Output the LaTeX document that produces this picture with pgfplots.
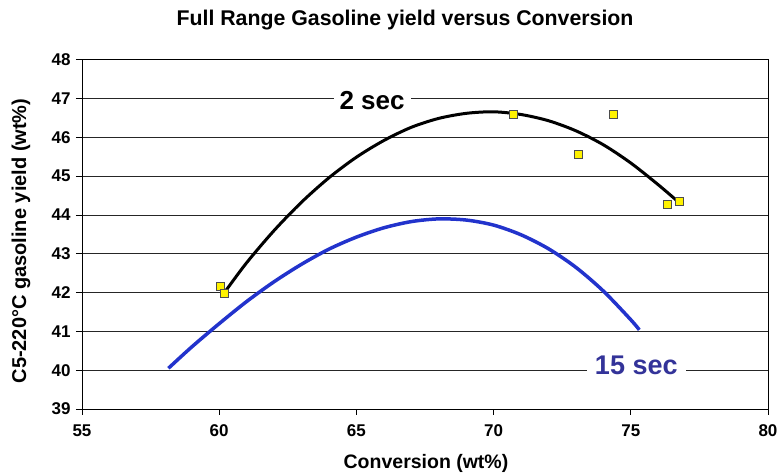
\documentclass[border=0pt]{standalone}
\usepackage{fontspec}
\setmainfont{Liberation Sans}
\usepackage{pgfplots}
\pgfplotsset{compat=1.18}
\definecolor{curveblue}{RGB}{34,51,204}
\definecolor{labelblue}{RGB}{51,51,153}
\begin{document}
\begin{tikzpicture}[x=1pt,y=1pt]
\useasboundingbox (0,0) rectangle (780,474);
\node[font=\bfseries\fontsize{21.3}{21.3}\selectfont] at (405,454) {Full Range Gasoline yield versus Conversion};
\node[font=\bfseries\fontsize{19.5}{19.5}\selectfont] at (426,11) {Conversion (wt\%)};
\node[font=\bfseries\fontsize{20}{20}\selectfont, rotate=90] at (21,233) {C5-220°C gasoline yield (wt\%)};
\begin{axis}[
  at={(82pt,65pt)}, anchor=south west,
  width=686pt, height=349.2pt, scale only axis,
  xmin=55, xmax=80, ymin=39, ymax=48,
  xtick={55,60,...,80}, ytick={39,40,...,48},
  ymajorgrids, grid style={black!85, line width=0.8pt},
  axis line style={black, line width=0.9pt},
  tick style={black, line width=0.9pt},
  tick align=outside, major tick length=6pt,
  xtick pos=bottom, ytick pos=left,
  /pgf/number format/assume math mode=true,
  tick label style={font=\bfseries\fontsize{17}{17}\selectfont},
  xticklabel style={yshift=-6pt},
  yticklabel style={xshift=-2pt},
  clip=false,
]
% 15 sec curve
\addplot[curveblue, line width=3.5pt, smooth, no marks] coordinates {
(58.15,40.05) (59,40.60) (60,41.20) (61,41.77) (62,42.28) (63,42.73)
(64,43.12) (65,43.43) (66,43.67) (67,43.83) (68,43.90) (69,43.87)
(70,43.74) (71,43.49) (72,43.13) (73,42.65) (74,42.04) (75,41.30) (75.31,41.04)};
% 2 sec curve
\addplot[black, line width=3pt, smooth, no marks] coordinates {
(60.19,42.0) (61,42.77) (62,43.60) (63,44.33) (64,44.96) (65,45.49)
(66,45.92) (67,46.26) (68,46.49) (69,46.62) (70,46.66) (71,46.59)
(72,46.43) (73,46.17) (74,45.81) (75,45.34) (76,44.78) (76.76,44.32)};
% data points
\addplot[only marks, mark=square*, mark size=4pt,
  mark options={fill=yellow, draw=black!70, line width=0.9pt}] coordinates {
(60.04,42.15) (60.19,41.99) (70.71,46.58) (73.11,45.57) (74.35,46.58)
(76.32,44.28) (76.76,44.34)};
\node[fill=white, inner xsep=6pt, inner ysep=1pt, font=\bfseries\fontsize{26}{26}\selectfont] at (axis cs:65.57,46.96) {2 sec};
\node[fill=white, inner xsep=8pt, inner ysep=1pt, text=labelblue, font=\bfseries\fontsize{27}{27}\selectfont] at (axis cs:75.2,40.13) {15 sec};
\end{axis}
\end{tikzpicture}
\end{document}
